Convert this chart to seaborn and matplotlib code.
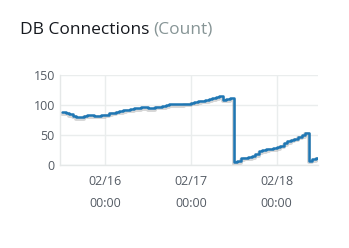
import matplotlib
matplotlib.use("Agg")
import matplotlib.pyplot as plt
import matplotlib.dates as mdates
import matplotlib.patheffects as pe
import seaborn as sns
import pandas as pd

# ---- data ----
start_time = "2024-02-15 12:00"
connections = [88, 87, 85, 82, 80, 80, 82, 83, 83, 82, 82, 83,
               84, 86, 87, 89, 90, 91, 92, 93, 95, 95, 96, 96,
               95, 95, 97, 97, 98, 100, 101, 101, 101, 101, 102, 102,
               104, 105, 106, 107, 108, 110, 111, 113, 115, 109, 110, 111,
               5, 6, 11, 12, 13, 15, 18, 23, 25, 26, 27, 28,
               30, 32, 36, 40, 42, 44, 47, 50, 54, 7, 10, 12, 11]
y_ticks = [0, 50, 100, 150]
x_tick_labels = ["02/16\n00:00", "02/17\n00:00", "02/18\n00:00"]
x_tick_times = ["2024-02-16 00:00", "2024-02-17 00:00", "2024-02-18 00:00"]

times = pd.date_range(start_time, periods=len(connections), freq="h")
df = pd.DataFrame({"time": times, "value": connections})

sns.set_style("white")
plt.rcParams["font.family"] = ["Open Sans", "DejaVu Sans"]

fig = plt.figure(figsize=(3.49, 2.48), dpi=100)
ax = fig.add_axes([0.173, 0.335, 0.737, 0.363])

sns.lineplot(data=df, x="time", y="value", ax=ax, color="#1f77b4",
             linewidth=1.8, drawstyle="steps-post",
             path_effects=[pe.SimpleLineShadow(offset=(0, -1.2), shadow_color="#9a9a9a", alpha=0.4, linewidth=2.8),
                           pe.Normal()])

ax.set_xlim(pd.Timestamp("2024-02-15 11:30"), pd.Timestamp("2024-02-18 11:30"))
ax.set_ylim(0, 150)
ax.set_yticks(y_ticks)
ax.set_yticklabels([str(v) for v in y_ticks])
ax.set_xticks([pd.Timestamp(t) for t in x_tick_times])
ax.set_xticklabels(x_tick_labels, linespacing=1.95)
ax.set_xlabel("")
ax.set_ylabel("")

ax.grid(True, color="#eaeded", linewidth=1.0)
ax.set_axisbelow(True)
for s in ["top", "right"]:
    ax.spines[s].set_visible(False)
for s in ["left", "bottom"]:
    ax.spines[s].set_color("#e5e8e8")
    ax.spines[s].set_linewidth(1.0)
ax.tick_params(axis="both", length=0, labelsize=9, colors="#545b64")
ax.tick_params(axis="y", pad=4)
ax.tick_params(axis="x", pad=7)

fig.text(20 / 349, 1 - 34 / 248, "DB Connections", fontsize=12.5, color="#16191f",
         ha="left", va="baseline")
fig.canvas.draw()
t = fig.texts[0]
bb = t.get_window_extent()
fig.text(bb.x1 / fig.bbox.width + 4 / 349, 1 - 34 / 248, "(Count)", fontsize=12.5,
         color="#879596", ha="left", va="baseline")

fig.savefig("out.png", dpi=100)
